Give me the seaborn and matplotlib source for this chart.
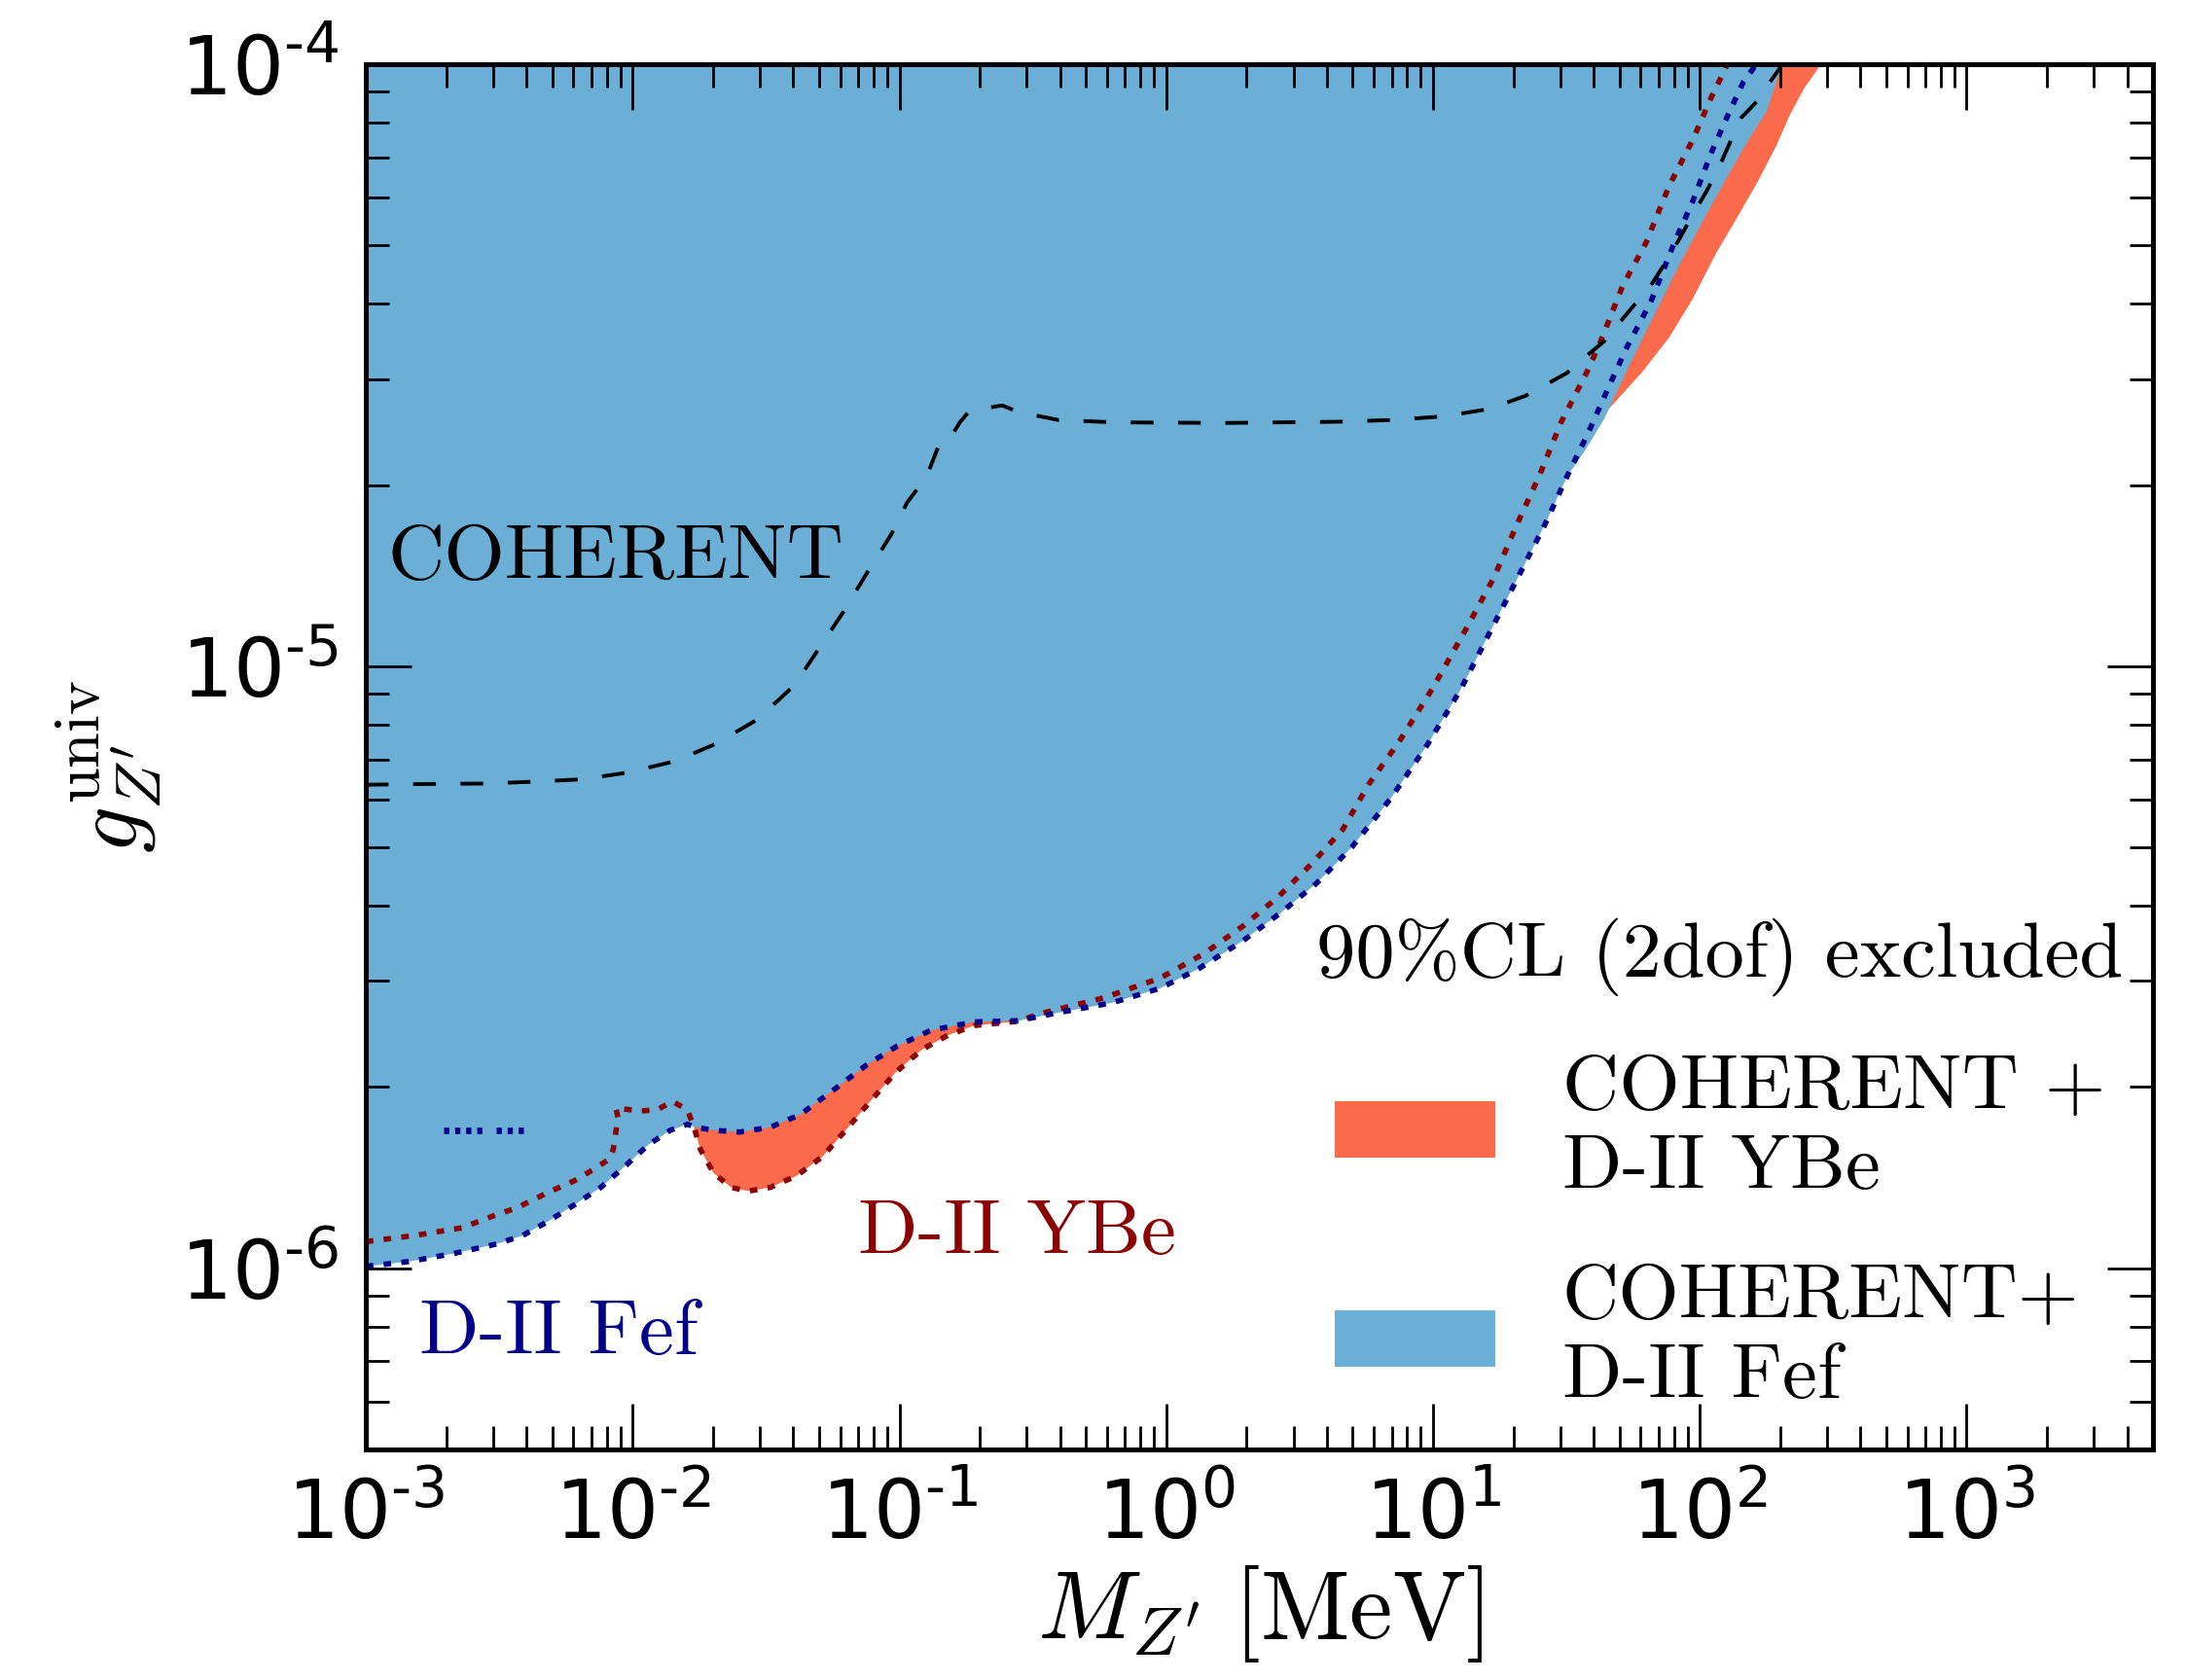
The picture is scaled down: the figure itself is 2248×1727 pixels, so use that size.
import numpy as np
import matplotlib
matplotlib.use("Agg")
import matplotlib.pyplot as plt
import seaborn as sns
from matplotlib.ticker import LogLocator, FuncFormatter, NullFormatter

# ---------------- data (log10 values) ----------------
# D-II Fef alone (navy dotted)
log_m_fef = [-3.0, -2.837, -2.674, -2.511, -2.413, -2.316, -2.219, -2.120, -2.022, -1.941,
             -1.859, -1.795, -1.763, -1.697, -1.599, -1.485, -1.372, -1.241, -1.128, -1.012,
             -0.883, -0.719, -0.556, -0.397, -0.201, -0.022, 0.124, 0.288, 0.434, 0.565,
             0.695, 0.841, 0.978, 1.102, 1.208, 1.313, 1.418, 1.502, 1.584, 1.679,
             1.729, 1.816, 1.903, 1.973, 2.042, 2.112, 2.164, 2.199, 2.25]
log_g_fef = [-5.997, -5.989, -5.976, -5.960, -5.946, -5.922, -5.895, -5.866, -5.828, -5.795,
             -5.771, -5.761, -5.766, -5.771, -5.774, -5.766, -5.745, -5.702, -5.664, -5.632,
             -5.605, -5.591, -5.589, -5.575, -5.559, -5.535, -5.502, -5.456, -5.408, -5.360,
             -5.301, -5.220, -5.131, -5.040, -4.948, -4.857, -4.766, -4.685, -4.610, -4.516,
             -4.468, -4.395, -4.298, -4.228, -4.148, -4.078, -4.029, -4.008, -3.97]

# small isolated pieces of the Fef contour
log_m_fef_piece1 = [-2.707, -2.557]
log_m_fef_piece2 = [-2.511, -2.394]
log_g_fef_piece = [-5.771, -5.771]

# D-II YBe alone (dark red dotted)
log_m_ybe = [-3.0, -2.82, -2.64, -2.527, -2.43, -2.316, -2.219, -2.136, -2.088, -2.073,
             -2.055, -2.063, -1.974, -1.909, -1.851, -1.795, -1.770, -1.746, -1.697, -1.631,
             -1.566, -1.485, -1.387, -1.289, -1.192, -1.110, -1.012, -0.916, -0.818, -0.719,
             -0.556, -0.478, -0.234, -0.022, 0.140, 0.287, 0.418, 0.548, 0.662, 0.759,
             0.872, 0.998, 1.124, 1.229, 1.313, 1.397, 1.481, 1.575, 1.624, 1.711,
             1.799, 1.885, 1.973, 2.042, 2.095, 2.13]
log_g_ybe = [-5.956, -5.946, -5.933, -5.914, -5.899, -5.874, -5.855, -5.833, -5.819, -5.803,
             -5.750, -5.734, -5.739, -5.737, -5.723, -5.737, -5.766, -5.803, -5.842, -5.866,
             -5.872, -5.866, -5.847, -5.815, -5.766, -5.723, -5.674, -5.637, -5.613, -5.597,
             -5.590, -5.578, -5.551, -5.518, -5.478, -5.432, -5.384, -5.327, -5.271, -5.196,
             -5.126, -5.037, -4.938, -4.852, -4.766, -4.685, -4.594, -4.513, -4.465, -4.368,
             -4.296, -4.202, -4.126, -4.056, -4.008, -3.97]

# COHERENT alone (black dashed)
log_m_coh = [-3.0, -2.826, -2.554, -2.372, -2.190, -2.022, -1.842, -1.688, -1.534, -1.394,
             -1.310, -1.212, -1.116, -1.032, -0.971, -0.898, -0.856, -0.825, -0.772, -0.741,
             -0.688, -0.615, -0.552, -0.405, -0.196, 0.223, 0.642, 0.852, 1.040, 1.208,
             1.346, 1.502, 1.572, 1.642, 1.703, 1.764, 1.816, 1.869, 1.920, 1.973,
             2.024, 2.068, 2.112, 2.155, 2.216, 2.259, 2.303]
log_g_coh = [-5.197, -5.196, -5.195, -5.192, -5.188, -5.177, -5.158, -5.129, -5.089, -5.032,
             -4.976, -4.911, -4.841, -4.782, -4.728, -4.685, -4.637, -4.632, -4.594, -4.578,
             -4.572, -4.567, -4.578, -4.591, -4.595, -4.596, -4.594, -4.591, -4.585, -4.573,
             -4.551, -4.513, -4.486, -4.460, -4.427, -4.395, -4.368, -4.331, -4.293, -4.250,
             -4.212, -4.175, -4.131, -4.089, -4.061, -4.032, -4.005]

# combined COHERENT + D-II Fef: high-mass part of the excluded-region edge
log_m_fef_comb_tail = [1.565, 1.642, 1.720, 1.799, 1.920, 2.024, 2.112, 2.182, 2.251, 2.303, 2.33]
log_g_fef_comb_tail = [-4.645, -4.589, -4.515, -4.444, -4.336, -4.250, -4.180, -4.126, -4.078, -4.008, -3.97]

# combined COHERENT + D-II YBe: high-mass part of the excluded-region edge
log_m_ybe_comb_tail = [1.55, 1.60, 1.658, 1.781, 1.885, 1.973, 2.060, 2.146, 2.216, 2.285,
                       2.339, 2.391, 2.442, 2.47]
log_g_ybe_comb_tail = [-4.650, -4.615, -4.573, -4.513, -4.454, -4.390, -4.315, -4.250, -4.196, -4.137,
                       -4.083, -4.040, -4.008, -3.97]

legend_title = "90%CL (2dof) excluded"
legend_labels = ["COHERENT +\nD-II YBe", "COHERENT+\nD-II Fef"]

# ---------------- style ----------------
sns.set_theme(style="ticks")
plt.rcParams.update({
    "font.family": ["DejaVu Sans"],
    "mathtext.fontset": "dejavusans",
    "text.color": "black",
    "axes.labelcolor": "black",
    "axes.axisbelow": False,
    "axes.linewidth": 1.8,
    "axes.edgecolor": "black",
    "xtick.direction": "in", "ytick.direction": "in",
    "xtick.top": True, "ytick.right": True,
    "xtick.major.size": 17, "ytick.major.size": 17,
    "xtick.minor.size": 8.5, "ytick.minor.size": 8.5,
    "xtick.major.width": 1.0, "ytick.major.width": 1.0,
    "xtick.minor.width": 1.0, "ytick.minor.width": 1.0,
    "xtick.color": "black", "ytick.color": "black",
    "xtick.labelcolor": "black", "ytick.labelcolor": "black",
})

C_BLUE = "#6baed6"
C_ORANGE = "#fb6a4a"
C_NAVY = "#00008b"
C_DRED = "#8b0000"

fig = plt.figure(figsize=(11.24, 8.635), dpi=200)
ax = fig.add_axes([0.1673, 0.1373, 0.8172, 0.8245])
ax.set_xscale("log")
ax.set_yscale("log")
ax.set_axisbelow(False)


def lin(a):
    return 10.0 ** np.asarray(a, dtype=float)


# ---- combined region COHERENT + D-II YBe (orange) ----
ybe_x = np.asarray(log_m_ybe)
keep = np.r_[True, ybe_x[1:] > np.maximum.accumulate(ybe_x)[:-1]] & (ybe_x <= 1.40)
m_or = np.r_[ybe_x[keep], log_m_ybe_comb_tail]
g_or = np.r_[np.asarray(log_g_ybe)[keep], log_g_ybe_comb_tail]
fill_or = ax.fill_between(lin(m_or), lin(g_or), 1e-3, facecolor=C_ORANGE, edgecolor="none",
                          linewidth=0, zorder=1)

# ---- combined region COHERENT + D-II Fef (blue) ----
fef_x = np.asarray(log_m_fef)
kb = fef_x <= 1.502
m_bl = np.r_[fef_x[kb], log_m_fef_comb_tail]
g_bl = np.r_[np.asarray(log_g_fef)[kb], log_g_fef_comb_tail]
fill_bl = ax.fill_between(lin(m_bl), lin(g_bl), 1e-3, facecolor=C_BLUE, edgecolor="none",
                          linewidth=0, zorder=1.5)

# ---- single-experiment contours ----
DOT = (1.4, 1.9)
sns.lineplot(x=lin(log_m_ybe), y=lin(log_g_ybe), sort=False, estimator=None,
             color=C_DRED, lw=2.0, ax=ax, zorder=4)
ax.lines[-1].set_dashes(DOT)
sns.lineplot(x=lin(log_m_fef), y=lin(log_g_fef), sort=False, estimator=None,
             color=C_NAVY, lw=2.0, ax=ax, zorder=5)
ax.lines[-1].set_dashes(DOT)
for piece in (log_m_fef_piece1, log_m_fef_piece2):
    sns.lineplot(x=lin(piece), y=lin(log_g_fef_piece), sort=False, estimator=None,
                 color=C_NAVY, lw=2.4, ax=ax, zorder=5)
    ax.lines[-1].set_dashes((0.8, 0.9))
sns.lineplot(x=lin(log_m_coh), y=lin(log_g_coh), sort=False, estimator=None,
             color="black", lw=1.4, ax=ax, zorder=6)
ax.lines[-1].set_dashes((6.0, 6.5))

# ---- axes ----
ax.set_xlim(1e-3, 5e3)
ax.set_ylim(5e-7, 1e-4)
ax.xaxis.set_major_locator(LogLocator(base=10, numticks=20))
ax.yaxis.set_major_locator(LogLocator(base=10, numticks=20))
ax.xaxis.set_minor_locator(LogLocator(base=10, subs=np.arange(2, 10), numticks=100))
ax.yaxis.set_minor_locator(LogLocator(base=10, subs=np.arange(2, 10), numticks=100))
ax.xaxis.set_minor_formatter(NullFormatter())
ax.yaxis.set_minor_formatter(NullFormatter())


def tick_fmt(v, pos):
    e = int(round(np.log10(v)))
    if e < 0:
        return "$10^{\u2010%d}$" % (-e)
    return "$10^{%d}$" % e


ax.xaxis.set_major_formatter(FuncFormatter(tick_fmt))
ax.yaxis.set_major_formatter(FuncFormatter(tick_fmt))
ax.tick_params(axis="both", which="major", labelsize=30, pad=10, labelcolor="black")
ax.tick_params(axis="both", which="both", top=True, right=True, direction="in")
for s in ax.spines.values():
    s.set_visible(True)
    s.set_linewidth(1.8)
    s.set_zorder(10)

ax.set_xlabel(r"$M_{Z^{\prime}}\;[\mathrm{MeV}]$", fontsize=36, math_fontfamily="cm",
              color="black")
ax.set_ylabel(r"$g_{Z^{\prime}}^{\mathrm{univ}}$", fontsize=34, math_fontfamily="cm",
              color="black")
ax.xaxis.set_label_coords(0.5, -0.082)
ax.yaxis.set_label_coords(-0.113, 0.493)

# ---- annotations ----
ax.text(10 ** -2.918, 10 ** -4.855, "COHERENT", family="cmr10", fontsize=29,
        color="black", ha="left", va="baseline", zorder=7)
ax.text(10 ** -2.801, 10 ** -6.143, "D-II Fef", family="cmr10", fontsize=29,
        color=C_NAVY, ha="left", va="baseline", zorder=7)
ax.text(10 ** -1.155, 10 ** -5.976, "D-II YBe", family="cmr10", fontsize=29,
        color=C_DRED, ha="left", va="baseline", zorder=7)

leg = ax.legend([fill_or, fill_bl], legend_labels, title=legend_title,
                loc="lower right", bbox_to_anchor=(1.014, -0.014), frameon=False,
                prop={"family": "cmr10", "size": 29},
                title_fontproperties={"family": "cmr10", "size": 29},
                handlelength=2.05, handleheight=0.72, handletextpad=0.85,
                labelspacing=0.75, borderpad=0.2, labelcolor="black")
leg.get_title().set_color("black")

fig.savefig("out.png", dpi=200)
